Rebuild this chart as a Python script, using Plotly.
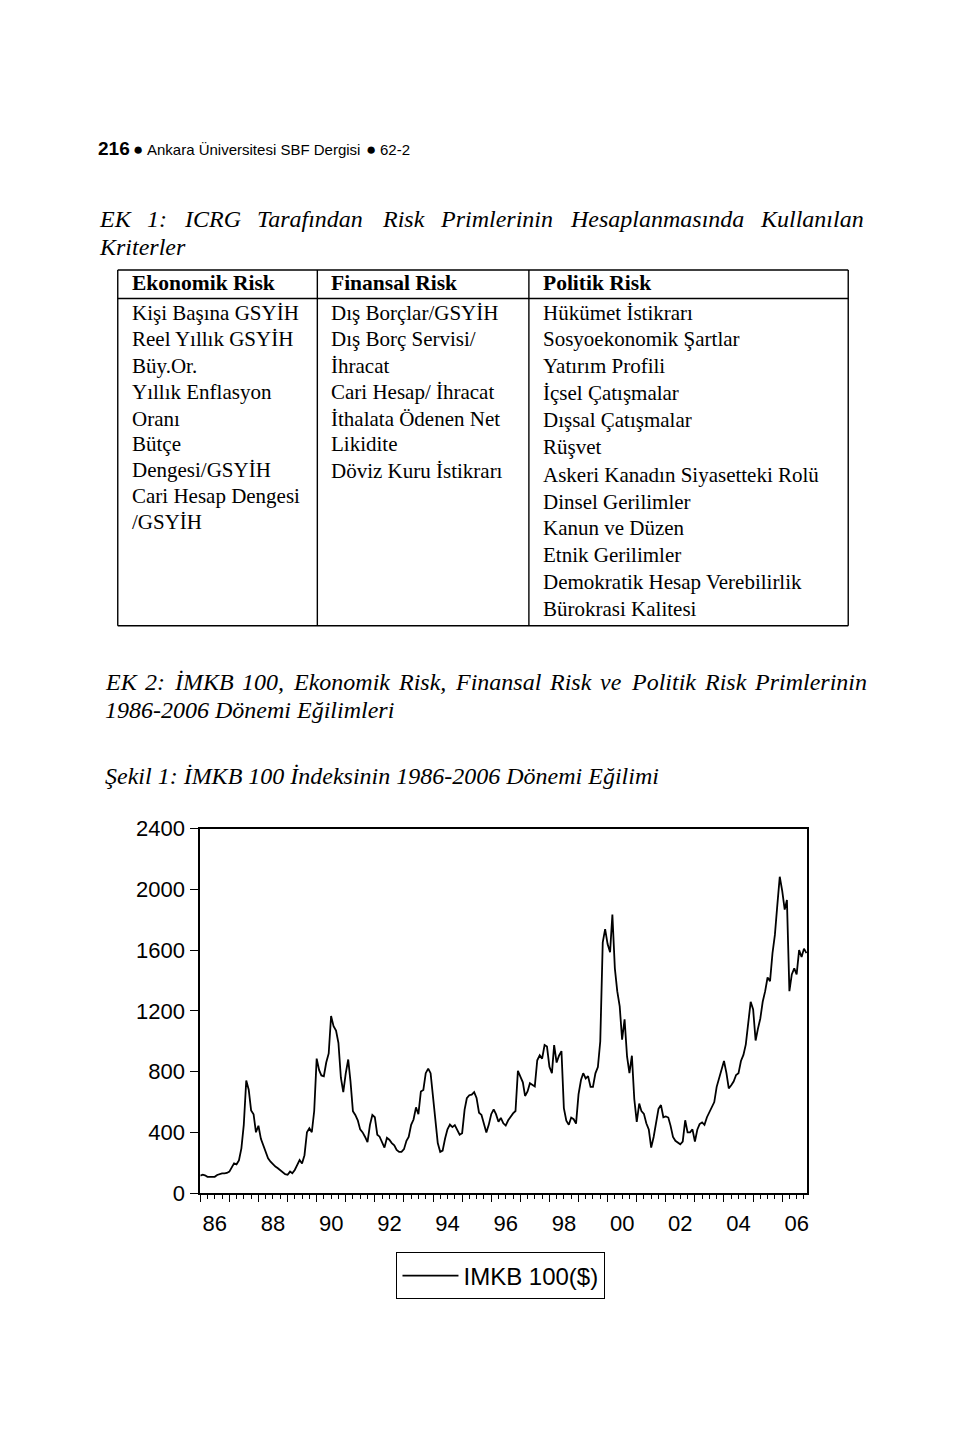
import plotly.graph_objects as go

W, H = 960, 1444


def px(x):
    return x / W


def py(y):
    return 1 - y / H


# ---------------- data: IMKB 100 ($), monthly ----------------
years = list(range(1986, 2007))
imkb_1986 = [116, 122, 118, 108, 107, 107, 108, 120, 128, 131, 131, 133]
imkb_1987 = [142, 175, 196, 190, 215, 295, 450, 742, 681, 545, 520, 401]
imkb_1988 = [444, 358, 315, 265, 230, 207, 190, 175, 164, 150, 133, 125]
imkb_1989 = [121, 142, 131, 153, 185, 218, 196, 250, 401, 427, 401, 541]
imkb_1990 = [886, 810, 775, 770, 860, 920, 1166, 1100, 1070, 990, 760, 665]
imkb_1991 = [789, 880, 740, 540, 515, 480, 420, 400, 370, 336, 450, 515]
imkb_1992 = [500, 385, 372, 330, 300, 365, 352, 330, 315, 285, 272, 272]
imkb_1993 = [290, 345, 370, 450, 485, 565, 520, 670, 680, 790, 820, 790]
imkb_1994 = [640, 480, 330, 272, 280, 360, 420, 452, 435, 448, 420, 385]
imkb_1995 = [395, 550, 625, 645, 649, 665, 627, 530, 515, 450, 400, 450]
imkb_1996 = [520, 552, 520, 470, 495, 460, 445, 480, 505, 525, 541, 805]
imkb_1997 = [768, 730, 640, 670, 724, 714, 703, 875, 908, 886, 975, 965]
imkb_1998 = [832, 790, 975, 860, 905, 935, 560, 478, 450, 498, 487, 458]
imkb_1999 = [650, 745, 790, 755, 770, 700, 700, 789, 830, 1000, 1652, 1738]
imkb_2000 = [1640, 1587, 1835, 1480, 1330, 1230, 1010, 1145, 900, 790, 905, 620]
imkb_2001 = [470, 590, 540, 522, 460, 420, 300, 370, 470, 555, 580, 500]
imkb_2002 = [505, 498, 445, 370, 345, 336, 322, 340, 480, 400, 400, 420]
imkb_2003 = [340, 420, 455, 466, 450, 500, 535, 563, 600, 700, 760, 820]
imkb_2004 = [870, 790, 690, 710, 735, 778, 789, 870, 910, 980, 1120, 1260]
imkb_2005 = [1210, 1005, 1080, 1150, 1260, 1330, 1420, 1395, 1580, 1700, 1900, 2083]
imkb_2006 = [1990, 1867, 1930, 1330, 1440, 1480, 1440, 1600, 1555, 1610, 1580]
yearly = [imkb_1986, imkb_1987, imkb_1988, imkb_1989, imkb_1990, imkb_1991, imkb_1992,
          imkb_1993, imkb_1994, imkb_1995, imkb_1996, imkb_1997, imkb_1998, imkb_1999,
          imkb_2000, imkb_2001, imkb_2002, imkb_2003, imkb_2004, imkb_2005, imkb_2006]

y_ticks = [0, 400, 800, 1200, 1600, 2000, 2400]
x_label_years = [1986, 1988, 1990, 1992, 1994, 1996, 1998, 2000, 2002, 2004, 2006]
x_labels = ["86", "88", "90", "92", "94", "96", "98", "00", "02", "04", "06"]
series_name = "IMKB 100($)"

# ---------------- table text ----------------
col_headers = ["Ekonomik Risk", "Finansal Risk", "Politik Risk"]
ekonomik = ["Kişi Başına GSYİH", "Reel Yıllık GSYİH", "Büy.Or.", "Yıllık Enflasyon", "Oranı",
            "Bütçe", "Dengesi/GSYİH", "Cari Hesap Dengesi", "/GSYİH"]
finansal = ["Dış Borçlar/GSYİH", "Dış Borç Servisi/", "İhracat", "Cari Hesap/ İhracat",
            "İthalata Ödenen Net", "Likidite", "Döviz Kuru İstikrarı"]
politik = ["Hükümet İstikrarı", "Sosyoekonomik Şartlar", "Yatırım Profili", "İçsel Çatışmalar",
           "Dışsal Çatışmalar", "Rüşvet", "Askeri Kanadın Siyasetteki Rolü", "Dinsel Gerilimler",
           "Kanun ve Düzen", "Etnik Gerilimler", "Demokratik Hesap Verebilirlik", "Bürokrasi Kalitesi"]

dates, values = [], []
for yr, vals in zip(years, yearly):
    for k, v in enumerate(vals):
        dates.append(f"{yr}-{k + 1:02d}-01")
        values.append(v)

SERIF = "Liberation Serif, Times New Roman, serif"
SANS = "Liberation Sans, Arial, sans-serif"

fig = go.Figure()
fig.add_trace(go.Scatter(x=dates, y=values, mode="lines", name=series_name,
                         line=dict(color="black", width=1.8), showlegend=True))
# empty trace so the label axis (x2) is registered and drawn
fig.add_trace(go.Scatter(x=[], y=[], xaxis="x2", yaxis="y", mode="lines",
                         showlegend=False, hoverinfo="skip"))

annotations = []


def text(x, y, s, size, family=SERIF, xanchor="left", italic=False, bold=False):
    if italic:
        s = f"<i>{s}</i>"
    if bold:
        s = f"<b>{s}</b>"
    annotations.append(dict(x=px(x), y=py(y), xref="paper", yref="paper", text=s,
                            showarrow=False, xanchor=xanchor, yanchor="middle",
                            font=dict(family=family, size=size, color="black")))


# running header
text(96, 139, "216", 19, family=SANS, bold=True)
text(131, 140, "●", 17, family=SANS)
text(145, 140, "Ankara Üniversitesi SBF Dergisi", 15, family=SANS)
text(365, 140, "●", 17, family=SANS)
text(379, 140, "62-2", 15, family=SANS)


# justified italic lines (word by word)
def justified(words, x0, x1, y, size):
    # approximate Times italic advance widths (per 1000 em)
    wt = {" ": 250, "A": 611, "B": 611, "C": 667, "D": 722, "E": 611, "F": 611, "G": 722, "H": 722,
          "I": 333, "İ": 333, "K": 667, "M": 833, "P": 611, "R": 611, "S": 500, "Ş": 500,
          "T": 556, "Y": 556, "a": 500, "b": 500, "c": 444, "d": 500, "e": 444, "f": 278,
          "g": 500, "ğ": 500, "h": 500, "i": 278, "ı": 278, "k": 444, "l": 278, "m": 722,
          "n": 500, "o": 500, "ö": 500, "p": 500, "r": 389, "s": 389, "ş": 389, "t": 278,
          "u": 500, "ü": 500, "v": 444, "z": 389, ":": 333, ",": 250, "-": 333}
    widths = [sum(wt.get(c, 500) for c in w) * size / 1000 for w in words]
    gap = (x1 - x0 - sum(widths)) / (len(words) - 1)
    x = x0
    for w, wd in zip(words, widths):
        text(x, y, w, size, italic=True)
        x += wd + gap


justified(["EK", "1:", "ICRG", "Tarafından", "Risk", "Primlerinin", "Hesaplanmasında", "Kullanılan"],
          97, 862, 211, 24)
text(97, 239, "Kriterler", 24, italic=True)

justified(["EK", "2:", "İMKB", "100,", "Ekonomik", "Risk,", "Finansal", "Risk", "ve", "Politik",
           "Risk", "Primlerinin"], 103, 866, 682, 24)
text(103, 710, "1986-2006 Dönemi Eğilimleri", 24, italic=True)
text(103, 777, "Şekil 1: İMKB 100 İndeksinin 1986-2006 Dönemi Eğilimi", 24, italic=True)

# table
col_x = [130, 330, 542]
for cx, h in zip(col_x, col_headers):
    text(cx, 276, h, 21.5, bold=True)
eko_y = [306, 333, 360, 387, 414, 440, 466, 492.5, 519]
fin_y = [306, 333, 360, 387, 414, 440, 467]
pol_y = [306, 333, 360, 387.5, 415, 443, 471.5, 498.5, 525.5, 552.5, 580.5, 607.5]
for s, yy in zip(ekonomik, eko_y):
    text(col_x[0], yy, s, 21)
for s, yy in zip(finansal, fin_y):
    text(col_x[1], yy, s, 21)
for s, yy in zip(politik, pol_y):
    text(col_x[2], yy, s, 21)

shapes = []


def hline(x0, x1, y, w=1.4):
    shapes.append(dict(type="line", xref="paper", yref="paper", x0=px(x0), x1=px(x1),
                       y0=py(y), y1=py(y), line=dict(color="black", width=w)))


def vline(x, y0, y1, w=1.4):
    shapes.append(dict(type="line", xref="paper", yref="paper", x0=px(x), x1=px(x),
                       y0=py(y0), y1=py(y1), line=dict(color="black", width=w)))


T_L, T_R, T_T, T_B, T_H = 118, 850, 262.5, 624.5, 291.5
hline(T_L, T_R, T_T, 1.6)
hline(T_L, T_R, T_H, 1.6)
hline(T_L, T_R, T_B, 1.6)
vline(T_L, T_T, T_B)
vline(T_R, T_T, T_B)
vline(318, T_T, T_B)
vline(530, T_T, T_B)

# ---------------- chart ----------------
PL, PR, PT, PB = 200.7, 809, 831, 1202
x_range = ["1986-01-01", "2006-11-12"]

fig.update_layout(
    width=W, height=H, margin=dict(l=0, r=0, t=0, b=0),
    paper_bgcolor="white", plot_bgcolor="white",
    xaxis=dict(domain=[px(PL), px(PR)], type="date", range=x_range,
               tick0="1986-01-01", dtick="M12", ticks="outside", ticklen=7, tickwidth=1.3,
               tickcolor="black", showticklabels=False,
               minor=dict(dtick="M3", tick0="1986-01-01", ticks="outside", ticklen=4,
                          tickwidth=1.1, tickcolor="black"),
               showline=True, linecolor="black", linewidth=2, mirror=True,
               showgrid=False, zeroline=False),
    xaxis2=dict(domain=[px(PL), px(PR)], type="date", range=x_range, overlaying="x",
                anchor="y", side="bottom",
                tickmode="array",
                tickvals=[f"{y}-07-02" for y in x_label_years], ticktext=x_labels,
                ticks="outside", ticklen=10, tickcolor="rgba(0,0,0,0)",
                tickfont=dict(family=SANS, size=22, color="black"),
                showline=False, showgrid=False, zeroline=False),
    yaxis=dict(domain=[py(PB), py(PT)], range=[0, 2400], tickvals=y_ticks,
               ticks="outside", ticklen=8, tickwidth=1.3, tickcolor="black",
               ticklabelstandoff=1,
               tickfont=dict(family=SANS, size=22, color="black"),
               showline=True, linecolor="black", linewidth=2, mirror=True,
               showgrid=False, zeroline=False),
    legend=dict(x=px(397), y=py(1262), xanchor="left", yanchor="top",
                bordercolor="black", borderwidth=1.3, bgcolor="white",
                font=dict(family=SANS, size=24, color="black"), itemwidth=56),
    annotations=annotations,
    shapes=shapes,
)

fig.write_html("out.html")
